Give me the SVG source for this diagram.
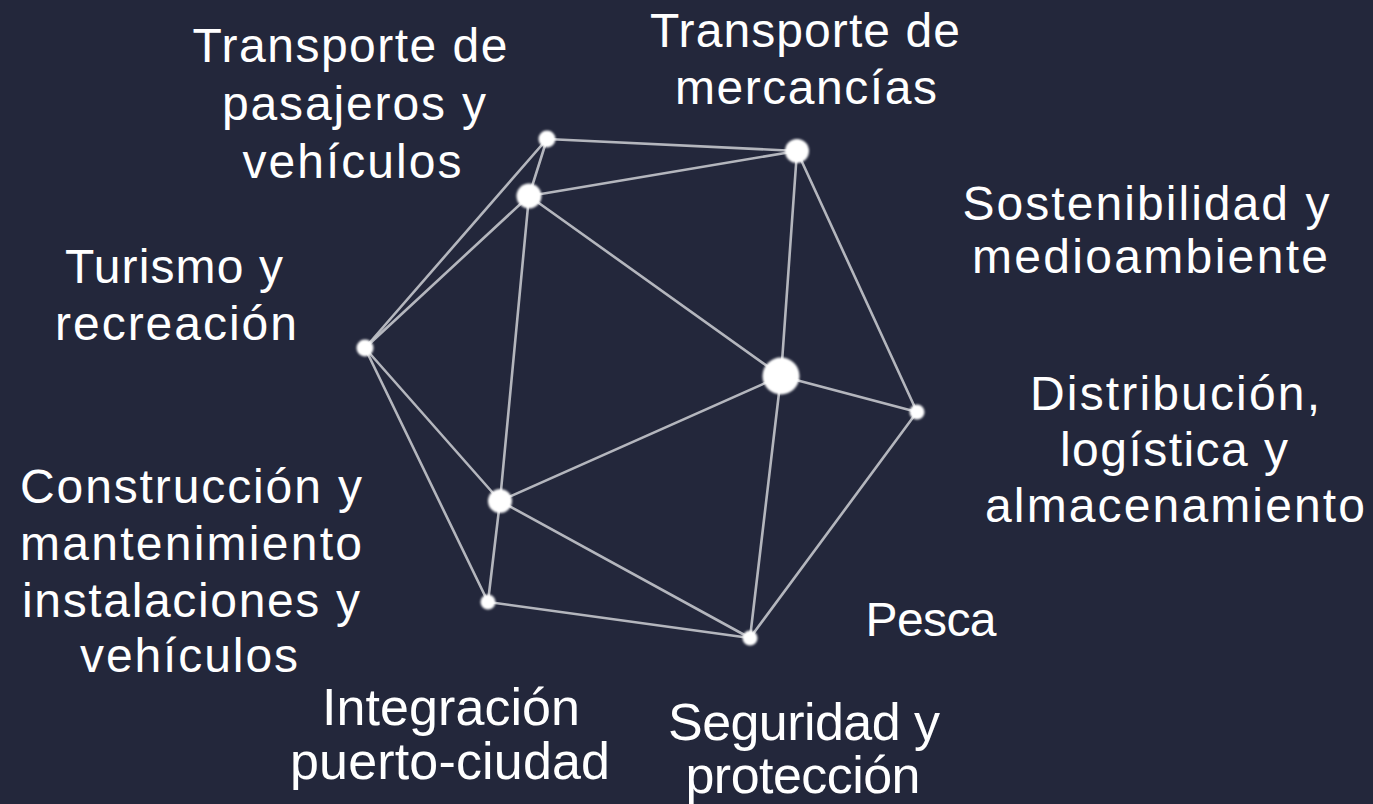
<svg xmlns="http://www.w3.org/2000/svg" width="1373" height="804" viewBox="0 0 1373 804">
<defs>
<style>
.lbl{font-family:"Liberation Sans",Arial,sans-serif;font-size:48px;fill:#ffffff;text-anchor:middle}
.big{font-size:52px}
.edge{stroke:#c4c6cc;stroke-width:2.6;stroke-linecap:round;opacity:0.9}
.dot{fill:#ffffff;filter:url(#soft)}
</style>
<filter id="soft" x="-50%" y="-50%" width="200%" height="200%"><feGaussianBlur stdDeviation="0.9"/></filter>
</defs>
<rect width="1373" height="804" fill="#23273b"/>
<g id="connectors">
<line class="edge" x1="547" y1="139" x2="797" y2="151"/>
<line class="edge" x1="547" y1="139" x2="529" y2="196"/>
<line class="edge" x1="547" y1="139" x2="365" y2="348"/>
<line class="edge" x1="529" y1="196" x2="797" y2="151"/>
<line class="edge" x1="529" y1="196" x2="365" y2="348"/>
<line class="edge" x1="529" y1="196" x2="781" y2="376"/>
<line class="edge" x1="529" y1="196" x2="500" y2="501"/>
<line class="edge" x1="797" y1="151" x2="781" y2="376"/>
<line class="edge" x1="797" y1="151" x2="917" y2="412"/>
<line class="edge" x1="365" y1="348" x2="500" y2="501"/>
<line class="edge" x1="365" y1="348" x2="488" y2="602"/>
<line class="edge" x1="781" y1="376" x2="500" y2="501"/>
<line class="edge" x1="781" y1="376" x2="917" y2="412"/>
<line class="edge" x1="781" y1="376" x2="750" y2="638"/>
<line class="edge" x1="500" y1="501" x2="488" y2="602"/>
<line class="edge" x1="500" y1="501" x2="750" y2="638"/>
<line class="edge" x1="488" y1="602" x2="750" y2="638"/>
<line class="edge" x1="917" y1="412" x2="750" y2="638"/>
</g>
<g id="n-pasajeros"><circle class="dot" cx="547" cy="139" r="8.5"/>
<text class="lbl" x="350" y="62" textLength="315">Transporte de</text>
<text class="lbl" x="354" y="120" textLength="264">pasajeros y</text>
<text class="lbl" x="352" y="178" textLength="219">vehículos</text></g>
<g id="n-mercancias"><circle class="dot" cx="797" cy="151" r="12"/>
<text class="lbl" x="805" y="47" textLength="310">Transporte de</text>
<text class="lbl" x="806" y="104" textLength="262">mercancías</text></g>
<g id="n-sostenibilidad"><circle class="dot" cx="529" cy="196" r="12.5"/>
<text class="lbl" x="1146" y="220" textLength="367">Sostenibilidad y</text>
<text class="lbl" x="1150" y="273" textLength="356">medioambiente</text></g>
<g id="n-turismo"><circle class="dot" cx="365" cy="348" r="8.5"/>
<text class="lbl" x="174" y="283" textLength="218">Turismo y</text>
<text class="lbl" x="176" y="340" textLength="242">recreación</text></g>
<g id="n-distribucion"><circle class="dot" cx="781" cy="376" r="18.5"/>
<text class="lbl" x="1175" y="410" textLength="290">Distribución,</text>
<text class="lbl" x="1174" y="466" textLength="228">logística y</text>
<text class="lbl" x="1175" y="522" textLength="380">almacenamiento</text></g>
<g id="n-pesca"><circle class="dot" cx="917" cy="412" r="7.5"/>
<text class="lbl" x="931" y="636" textLength="131">Pesca</text></g>
<g id="n-construccion"><circle class="dot" cx="500" cy="501" r="12"/>
<text class="lbl" x="191" y="503" textLength="342">Construcción y</text>
<text class="lbl" x="191" y="560" textLength="342">mantenimiento</text>
<text class="lbl" x="191" y="617" textLength="338">instalaciones y</text>
<text class="lbl" x="189" y="672" textLength="218">vehículos</text></g>
<g id="n-integracion"><circle class="dot" cx="488" cy="602" r="7.5"/>
<text class="lbl big" x="451" y="725" textLength="258">Integración</text>
<text class="lbl big" x="450" y="779" textLength="320">puerto-ciudad</text></g>
<g id="n-seguridad"><circle class="dot" cx="750" cy="638" r="7.5"/>
<text class="lbl big" x="804" y="740" textLength="272">Seguridad y</text>
<text class="lbl big" x="803" y="793" textLength="235">protección</text></g>
</svg>
